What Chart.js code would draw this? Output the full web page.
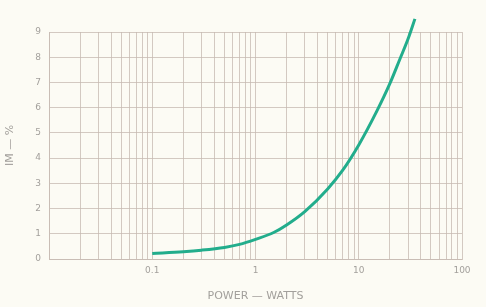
<!DOCTYPE html>
<html>
<head>
<meta charset="utf-8">
<script src="https://cdn.jsdelivr.net/npm/chart.js@4"></script>
<style>
  html, body { margin: 0; padding: 0; background: #fcfbf4; }
  #wrap { width: 486px; height: 307px; }
</style>
</head>
<body>
<div id="wrap"><canvas id="myChart" width="486" height="307"></canvas></div>
<script>
// datos
const potencias = [0.1, 0.2, 0.3, 0.5, 0.7, 1, 1.5, 2, 3, 5, 7, 10, 15, 20, 25, 30, 35];
const imPorcentaje = [0.22, 0.29, 0.35, 0.46, 0.58, 0.78, 1.05, 1.35, 1.88, 2.78, 3.52, 4.52, 5.87, 6.95, 7.92, 8.72, 9.52];
const ticksEjeX = [0.1, 1, 10, 100];
const ticksEjeY = [0, 1, 2, 3, 4, 5, 6, 7, 8, 9];

const colorGrilla = "rgba(198, 184, 176, 0.75)";
const colorTexto = "#a3a09c";

const ctx = document.getElementById("myChart");
ctx.getContext("2d").letterSpacing = "1px";

const puntos = potencias.map((p, i) => ({ x: p, y: imPorcentaje[i] }));

const cfg = {
  type: "line",
  data: {
    datasets: [
      {
        label: "IM",
        data: puntos,
        borderColor: "#22ad8c",
        borderWidth: 3,
        pointRadius: 0,
        cubicInterpolationMode: "monotone",
        clip: 20,
      },
    ],
  },
  options: {
    responsive: false,
    animation: false,
    layout: {
      padding: { top: 32, right: 24, left: 0, bottom: 0 },
    },
    plugins: {
      legend: { display: false },
      tooltip: { enabled: false },
    },
    scales: {
      x: {
        type: "logarithmic",
        min: 0.01,
        max: 100,
        afterBuildTicks: (scale) => {
          const lista = [];
          [0.01, 0.1, 1, 10].forEach((d) => {
            for (let k = 1; k <= 9; k++) lista.push({ value: +(d * k).toPrecision(3) });
          });
          lista.push({ value: 100 });
          scale.ticks = lista;
        },
        afterFit: (scale) => {
          scale.height = 48;
        },
        ticks: {
          autoSkip: false,
          maxRotation: 0,
          padding: 6,
          color: colorTexto,
          font: { family: "DejaVu Sans", size: 9 },
          callback: (valor) => (ticksEjeX.includes(valor) ? String(valor) : ""),
        },
        grid: { color: colorGrilla, lineWidth: 1, drawTicks: false },
        border: { color: colorGrilla },
        title: {
          display: true,
          text: "POWER — WATTS",
          color: colorTexto,
          font: { family: "DejaVu Sans", size: 11 },
          padding: { top: 12 },
        },
      },
      y: {
        min: 0,
        max: 9,
        afterBuildTicks: (scale) => {
          scale.ticks = ticksEjeY.map((v) => ({ value: v }));
        },
        afterFit: (scale) => {
          scale.width = 49;
        },
        ticks: {
          padding: 8,
          color: colorTexto,
          font: { family: "DejaVu Sans", size: 9 },
        },
        grid: { color: colorGrilla, lineWidth: 1, drawTicks: false },
        border: { color: colorGrilla },
        title: {
          display: true,
          text: "IM — %",
          color: colorTexto,
          font: { family: "DejaVu Sans", size: 11 },
          padding: { bottom: 6 },
        },
      },
    },
  },
};

const myChart = new Chart(ctx, cfg);
</script>
</body>
</html>
